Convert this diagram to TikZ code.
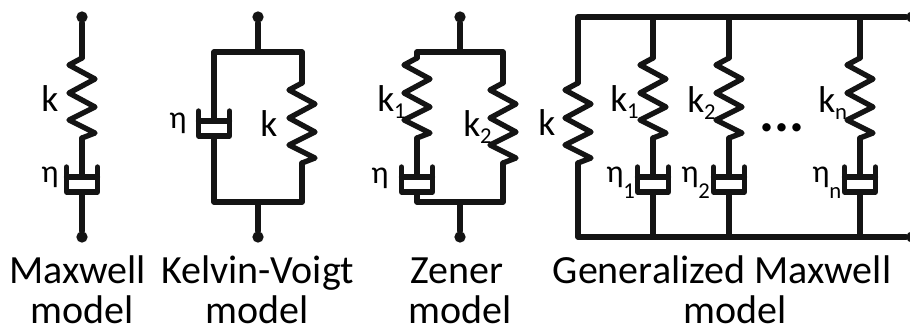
\documentclass[tikz,border=0pt]{standalone}
\usepackage{fontspec}
\setmainfont{Carlito}
\usepackage{graphicx}
\usetikzlibrary{positioning, calc}

\newcommand{\sublab}[3][-5pt]{#2\raisebox{#1}{\fontsize{17}{17}\selectfont #3}}

\begin{document}
\begin{tikzpicture}[x=0.75pt, y=-0.75pt,
    wire/.style={draw=black!92, line width=4pt, line join=round, line cap=round},
    terminal/.style={circle, fill=black!92, minimum size=8.5pt, inner sep=0pt},
    sym/.style={font=\fontsize{28}{28}\selectfont, inner sep=0pt, anchor=base west},
    etasym/.style={sym, font=\fontsize{24}{24}\selectfont},
    caption/.style={font=\fontsize{30}{30}\selectfont, inner sep=0pt, anchor=base},
    coil/.pic={
        \coordinate (-in) at (0,0);
        \coordinate (-out) at (0,80);
        \draw[wire] (0,0) -- (-13,7) -- (13,21) -- (-13,35) -- (13,49) -- (-13,62) -- (13,75) -- (0,80);
    },
    dashpot/.pic={
        \coordinate (-in) at (0,0);
        \coordinate (-out) at (0,15);
        \draw[wire] (-15.5,-10) -- (-15.5,15) -- (15.5,15) -- (15.5,-10);
        \draw[wire] (-15.5,0) -- (15.5,0);
    }]
    \useasboundingbox (0,0) rectangle (910,331);

    % Maxwell
    \node[terminal] (mxTop) at (82,17) {};
    \node[terminal] (mxBot) at (82,237) {};
    \pic (mxS) at (82,58) {coil};
    \pic (mxD) at (82,177) {dashpot};
    \draw[wire] (mxTop) -- (mxS-in);
    \draw[wire] (mxS-out) -- (mxD-in);
    \draw[wire] (mxD-out) -- (mxBot);
    \node[sym] (mxK) at (41,112) {k};
    \node[etasym] (mxE) at (41,183) {η};
    \node[caption] (mxCap) at (77.5,284) {Maxwell};
    \node[caption] (mxCapB) at (82,323) {model};

    % Kelvin-Voigt
    \node[terminal] (kvTop) at (258,17) {};
    \node[terminal] (kvBot) at (258,237) {};
    \coordinate (kvTJ) at (258,52);
    \coordinate (kvBJ) at (258,202);
    \coordinate (kvTL) at (214,52);
    \coordinate (kvTR) at (302,52);
    \coordinate (kvBL) at (214,202);
    \coordinate (kvBR) at (302,202);
    \pic (kvD) at (214,121) {dashpot};
    \pic (kvS) at (302,83) {coil};
    \draw[wire] (kvTop) -- (kvTJ);
    \draw[wire] (kvBot) -- (kvBJ);
    \draw[wire] (kvD-in) -- (kvTL) -- (kvTR) -- (kvS-in);
    \draw[wire] (kvD-out) -- (kvBL) -- (kvBR) -- (kvS-out);
    \node[etasym] (kvE) at (169,129) {η};
    \node[sym] (kvK) at (260,137) {k};
    \node[caption] (kvCap) at (257.5,284) {Kelvin-Voigt};
    \node[caption] (kvCapB) at (257.5,323) {model};

    % Zener
    \node[terminal] (znTop) at (460,17) {};
    \node[terminal] (znBot) at (460,237) {};
    \coordinate (znTJ) at (460,52);
    \coordinate (znBJ) at (460,202);
    \coordinate (znTL) at (417,52);
    \coordinate (znTR) at (503,52);
    \coordinate (znBL) at (417,202);
    \coordinate (znBR) at (503,202);
    \pic (znS1) at (417,58) {coil};
    \pic (znD) at (417,177) {dashpot};
    \pic (znS2) at (503,83) {coil};
    \draw[wire] (znTop) -- (znTJ);
    \draw[wire] (znBot) -- (znBJ);
    \draw[wire] (znS1-in) -- (znTL) -- (znTR) -- (znS2-in);
    \draw[wire] (znS1-out) -- (znD-in);
    \draw[wire] (znD-out) -- (znBL) -- (znBR) -- (znS2-out);
    \node[sym] (znK1) at (377,112) {\sublab{k}{1}};
    \node[sym] (znK2) at (463,137) {\sublab{k}{2}};
    \node[etasym] (znE) at (371,184) {η};
    \node[caption] (znCap) at (457,284) {Zener};
    \node[caption] (znCapB) at (460,323) {model};

    % Generalized Maxwell
    \coordinate (gmTL) at (578,17);
    \coordinate (gmBL) at (578,237);
    \node[terminal] (gmTopEnd) at (912,17) {};
    \node[terminal] (gmBotEnd) at (912,237) {};
    \pic (gmS) at (578,83) {coil};
    \draw[wire] (gmS-in) -- (gmTL) -- (gmTopEnd);
    \draw[wire] (gmS-out) -- (gmBL) -- (gmBotEnd);
    \foreach \name/\xpos in {a/653, b/729, c/860} {
        \coordinate (gm\name T) at (\xpos,17);
        \coordinate (gm\name B) at (\xpos,237);
        \pic (gm\name S) at (\xpos,58) {coil};
        \pic (gm\name D) at (\xpos,177) {dashpot};
        \draw[wire] (gm\name T) -- (gm\name S-in);
        \draw[wire] (gm\name S-out) -- (gm\name D-in);
        \draw[wire] (gm\name D-out) -- (gm\name B);
    }
    \node[sym] (gmK) at (538,136) {k};
    \node[sym] (gmK1) at (610,112) {\sublab{k}{1}};
    \node[sym] (gmK2) at (687,113) {\sublab{k}{2}};
    \node[sym] (gmKn) at (818,113) {\sublab{k}{n}};
    \node[etasym] (gmE1) at (606,183) {\sublab[-12pt]{η}{1}};
    \node[etasym] (gmE2) at (681,183) {\sublab[-12pt]{η}{2}};
    \node[etasym] (gmEn) at (812,183) {\sublab[-12pt]{η}{n}};
    \node[font=\fontsize{42}{42}\selectfont\bfseries, inner sep=0pt, anchor=base] (gmDots) at (782,132) {...};
    \node[caption] (gmCap) at (722,284) {Generalized Maxwell};
    \node[caption] (gmCapB) at (735,323) {model};
\end{tikzpicture}
\end{document}
